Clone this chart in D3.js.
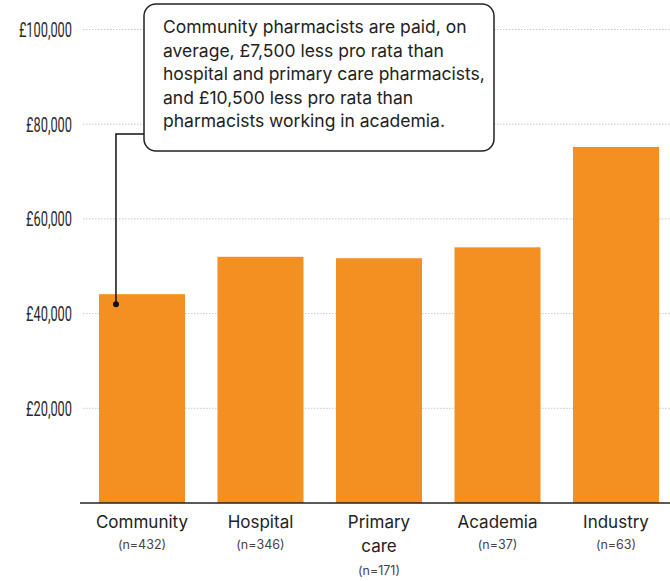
<!DOCTYPE html>
<html><head><meta charset="utf-8">
<script src="https://cdn.jsdelivr.net/npm/d3@7"></script>
<style>
html,body{margin:0;padding:0;background:#fff;}
svg{display:block;}
</style></head>
<body>
<svg id="c" width="670" height="581"></svg>
<script>
const categories = ["Community", "Hospital", "Primary care", "Academia", "Industry"];
const categoryLines = [["Community"], ["Hospital"], ["Primary", "care"], ["Academia"], ["Industry"]];
const sampleSizes = ["(n=432)", "(n=346)", "(n=171)", "(n=37)", "(n=63)"];
const salaries = [44100, 52000, 51700, 54000, 75200];
const yTicks = [20000, 40000, 60000, 80000, 100000];
const annotationLines = [
  "Community pharmacists are paid, on",
  "average, £7,500 less pro rata than",
  "hospital and primary care pharmacists,",
  "and £10,500 less pro rata than",
  "pharmacists working in academia."
];
const annotationPointValue = 42000;

const svg = d3.select("#c");
const x = d3.scaleBand().domain(categories).range([80, 678]).paddingInner(0.274).paddingOuter(0.16);
const y = d3.scaleLinear().domain([0, 100000]).range([503, 29.5]);

// gridlines
svg.append("g").selectAll("line").data(yTicks).join("line")
  .attr("x1", 83).attr("x2", 670)
  .attr("y1", d => y(d)).attr("y2", d => y(d))
  .attr("stroke", "#c8c8c8").attr("stroke-width", 1).attr("stroke-dasharray", "1.5,1.5");

// y labels
const fmt = d3.format(",");
svg.append("g").selectAll("text").data(yTicks).join("text")
  .attr("transform", d => `translate(72,${y(d) + 7.5}) scale(0.61,1)`)
  .attr("text-anchor", "end")
  .attr("font-family", "Roboto, 'DejaVu Sans', sans-serif")
  .attr("font-weight", 400)
  .attr("font-size", 21)
  .attr("fill", "#2a2a2a")
  .text(d => "£" + fmt(d));

// bars
svg.append("g").selectAll("rect").data(salaries).join("rect")
  .attr("x", (d, i) => x(categories[i]))
  .attr("width", x.bandwidth())
  .attr("y", d => y(d))
  .attr("height", d => y(0) - y(d))
  .attr("fill", "#F49022");

// baseline
svg.append("line").attr("x1", 80).attr("x2", 670).attr("y1", y(0)).attr("y2", y(0))
  .attr("stroke", "#222").attr("stroke-width", 1.3);

// category labels
const lab = svg.append("g").attr("font-family", "Inter, 'Liberation Sans', sans-serif");
categories.forEach((c, i) => {
  const cx = x(c) + x.bandwidth() / 2;
  const lines = categoryLines[i];
  lines.forEach((l, j) => {
    lab.append("text").attr("x", cx).attr("y", 528 + j * 24)
      .attr("text-anchor", "middle").attr("font-size", 17).attr("fill", "#222").text(l);
  });
  lab.append("text").attr("x", cx).attr("y", 549 + (lines.length - 1) * 26)
    .attr("text-anchor", "middle").attr("font-size", 12.5).attr("fill", "#444").text(sampleSizes[i]);
});

// annotation leader
const px = x(categories[0]) + 17, py = y(annotationPointValue);
svg.append("path").attr("d", `M${px},${py} V134 H144`).attr("fill", "none").attr("stroke", "#111").attr("stroke-width", 1.5);
svg.append("circle").attr("cx", px).attr("cy", py).attr("r", 3).attr("fill", "#111");

// annotation box
svg.append("rect").attr("x", 144).attr("y", 4).attr("width", 350).attr("height", 147)
  .attr("rx", 12).attr("fill", "#fff").attr("stroke", "#222").attr("stroke-width", 1.5);
svg.append("g").selectAll("text").data(annotationLines).join("text")
  .attr("x", 163).attr("y", (d, i) => 33 + i * 23.5)
  .attr("font-family", "Inter, 'Liberation Sans', sans-serif")
  .attr("font-size", 17.5).attr("fill", "#222").text(d => d);
</script>
</body></html>
